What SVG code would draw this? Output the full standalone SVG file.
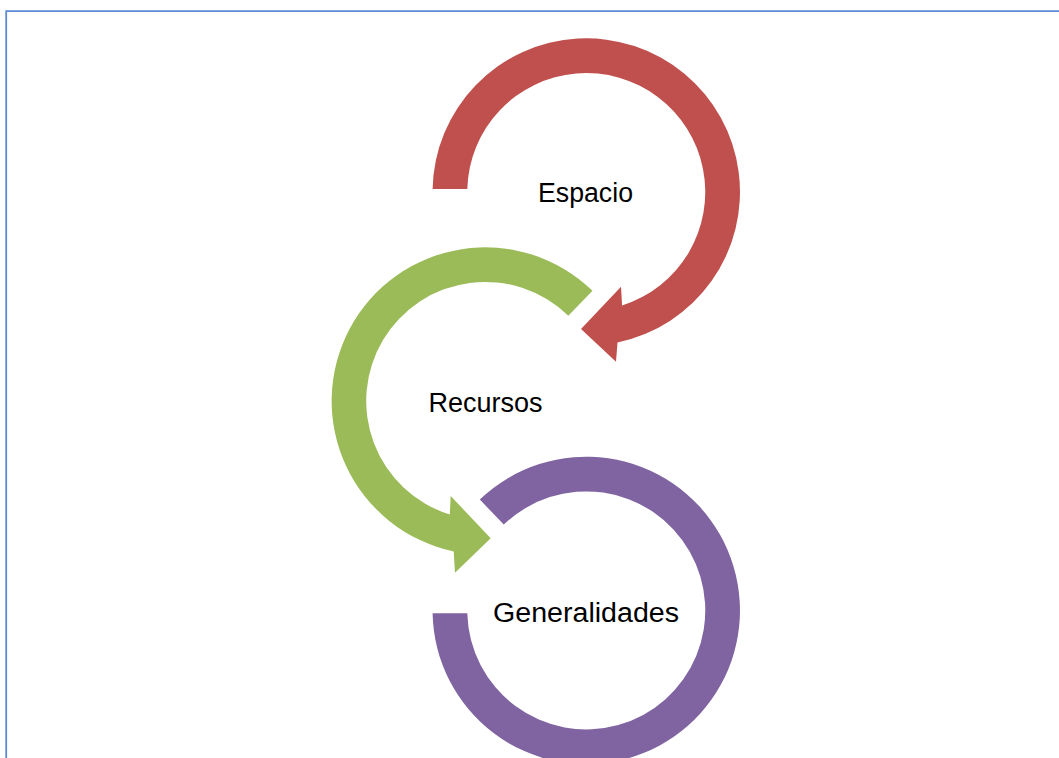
<svg xmlns="http://www.w3.org/2000/svg" width="1059" height="758" viewBox="0 0 1059 758">
<style>
.lbl{font-family:"Liberation Sans",Arial,sans-serif;font-size:27px;fill:#000;text-anchor:middle}
.red{fill:#C0504D}
.green{fill:#9BBB59}
.purple{fill:#8064A2}
.frame{fill:none;stroke:#5B8BD3;stroke-width:1.8}
</style>
<rect x="0" y="0" width="1059" height="758" fill="#fff"/>
<path class="frame" d="M6.2 760 V11.2 H1062"/>
<g id="node-espacio">
<path class="red" d="M432.6 189 A153.7 153.7 0 1 1 617.5 342.5 L616 361.7 L581 329 L621 286.7 L622.1 305.5 A119 119 0 1 0 467.3 189 Z"/>
<text class="lbl" x="585.5" y="202" textLength="95" lengthAdjust="spacingAndGlyphs">Espacio</text>
</g>
<g id="node-recursos">
<path class="green" d="M592.5 290.8 A153.7 153.7 0 1 0 453.7 551.4 L455 572.7 L490.7 538.2 L450.7 496 L449.8 514.5 A119 119 0 1 1 568.3 315.7 Z"/>
<text class="lbl" x="485.5" y="411.5" textLength="114" lengthAdjust="spacingAndGlyphs">Recursos</text>
</g>
<g id="node-generalidades">
<path class="purple" d="M432.6 613.3 A153.7 153.7 0 1 0 479.8 499.6 L503.8 524.6 A119 119 0 1 1 467.3 613.3 Z"/>
<text class="lbl" x="586" y="622.3" textLength="186" lengthAdjust="spacingAndGlyphs">Generalidades</text>
</g>
</svg>
